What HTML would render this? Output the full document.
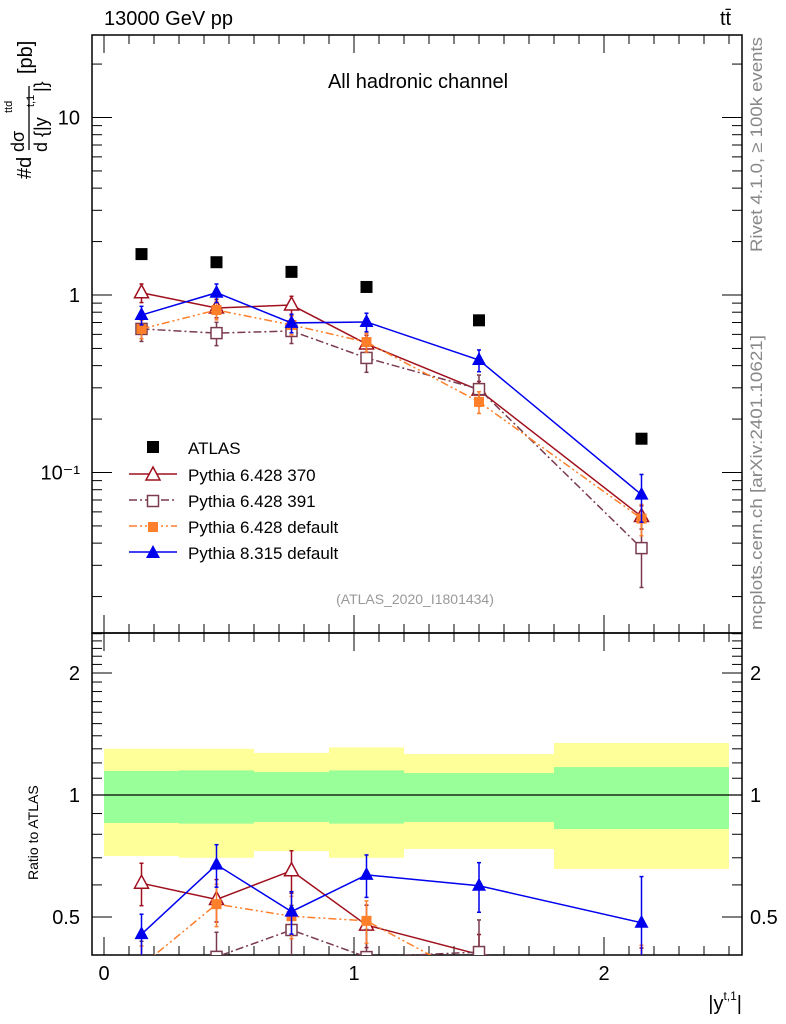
<!DOCTYPE html>
<html><head><meta charset="utf-8">
<style>
html,body{margin:0;padding:0;background:#fff;overflow:hidden;width:786px;height:1024px;}
svg{display:block;font-family:"Liberation Sans",sans-serif;}
</style></head>
<body>
<svg id="chart" width="786" height="1024" viewBox="0 0 786 1024" xmlns="http://www.w3.org/2000/svg">
<g id="bands"></g>
<g id="axes"></g>
<g id="series"></g>
<text x="104" y="25" font-size="20">13000 GeV pp</text>
<text x="720" y="25" font-size="20">tt̄</text>
<text x="418" y="88" font-size="20" text-anchor="middle">All hadronic channel</text>
<text x="415" y="604" font-size="14" fill="#999" text-anchor="middle">(ATLAS_2020_I1801434)</text>
<text transform="translate(762,252) rotate(-90)" font-size="17" fill="#888" textLength="215" lengthAdjust="spacingAndGlyphs">Rivet 4.1.0, ≥ 100k events</text>
<text transform="translate(762,630) rotate(-90)" font-size="17" fill="#888" textLength="295" lengthAdjust="spacingAndGlyphs">mcplots.cern.ch [arXiv:2401.10621]</text>
<g font-size="20">
<text transform="translate(31,179) rotate(-90)">#d</text>
<text transform="translate(24,152) rotate(-90)" font-size="18">dσ</text>
<text transform="translate(12,113) rotate(-90)" font-size="11">ttd</text>
<line x1="29" y1="150" x2="29" y2="86" stroke="#000" stroke-width="1.3"/>
<text transform="translate(47,152) rotate(-90)" font-size="18">d {|y</text>
<text transform="translate(34,107) rotate(-90)" font-size="11">t,1</text>
<text transform="translate(47,92) rotate(-90)" font-size="18">|}</text>
<text transform="translate(32,74) rotate(-90)">[pb]</text>
</g>
<text transform="translate(38,880) rotate(-90)" font-size="14">Ratio to ATLAS</text>
<text x="742" y="1010" font-size="20" text-anchor="end">|y<tspan font-size="12" dy="-10">t,1</tspan><tspan dy="10">|</tspan></text>
<g id="legend"></g>
</svg>
<script>
const binEdges=[0,0.3,0.6,0.9,1.2,1.8,2.5];
const xCenters=[0.15,0.45,0.75,1.05,1.5,2.15];
const atlas=[1.70,1.53,1.35,1.11,0.72,0.155];
const p370=[1.03,0.845,0.878,0.53,0.291,0.0565];
const p391=[0.644,0.61,0.627,0.442,0.295,0.0375];
const pdef=[0.644,0.823,0.678,0.543,0.25,0.055];
const p8=[0.771,1.03,0.696,0.705,0.43,0.075];
const e370=[0.12,0.12,0.12,0.12,0.12,0.15];
const e391=[0.15,0.15,0.15,0.17,0.2,0.4];
const edef=[0.12,0.12,0.12,0.12,0.14,0.2];
const e8=[0.12,0.12,0.12,0.12,0.14,0.3];
const yellowHi=[1.30,1.30,1.27,1.31,1.262,1.344];
const yellowLo=[0.707,0.70,0.727,0.70,0.736,0.657];
const greenHi=[1.146,1.15,1.14,1.15,1.133,1.172];
const greenLo=[0.853,0.85,0.858,0.85,0.858,0.824];
const mainTicks=[0.1,1,10];
const mainTickLabels=["10\u207B\u00B9","1","10"];
const ratioTicks=[0.5,1,2];
const ratioTickLabels=["0.5","1","2"];
const xTicks=[0,1,2];
const xTickLabels=["0","1","2"];

const NS="http://www.w3.org/2000/svg";
const L=92,R=742,MT=35,MB=633,RT=633,RB=955;
const xs=v=>104+250*v;
const ym=v=>295-177.5*Math.log10(v);
const yr=v=>795-122*Math.log2(v);
function el(tag,attrs,parent){const e=document.createElementNS(NS,tag);for(const k in attrs)e.setAttribute(k,attrs[k]);parent.appendChild(e);return e;}
const bands=document.getElementById('bands'),axes=document.getElementById('axes'),series=document.getElementById('series'),legend=document.getElementById('legend');

for(let i=0;i<binEdges.length-1;i++){
 let r=el('rect',{x:xs(binEdges[i]),y:yr(yellowHi[i]),width:xs(binEdges[i+1])-xs(binEdges[i]),height:yr(yellowLo[i])-yr(yellowHi[i]),fill:'#ffff99'},bands);
 
 
 let g=el('rect',{x:xs(binEdges[i]),y:yr(greenHi[i]),width:xs(binEdges[i+1])-xs(binEdges[i]),height:yr(greenLo[i])-yr(greenHi[i]),fill:'#99ff99'},bands);
 
 
}
el('line',{x1:L,x2:R,y1:yr(1),y2:yr(1),stroke:'#000','stroke-width':1.3},bands);

el('rect',{x:L,y:MT,width:R-L,height:MB-MT,fill:'none',stroke:'#000','stroke-width':1.5},axes);
el('rect',{x:L,y:RT,width:R-L,height:RB-RT,fill:'none',stroke:'#000','stroke-width':1.5},axes);
for(let k=0;k<=25;k++){const v=k/10,x=xs(v),maj=(k%10===0),len=maj?18:9;
 for(const [top,bot] of [[MT,MB],[RT,RB]]){
  el('line',{x1:x,x2:x,y1:top,y2:top+len,stroke:'#000'},axes);
  el('line',{x1:x,x2:x,y1:bot,y2:bot-len,stroke:'#000'},axes);
 }}
xTicks.forEach((v,i)=>{const t=el('text',{x:xs(v),y:980,'font-size':20,'text-anchor':'middle'},axes);t.textContent=xTickLabels[i];
 
 });
for(let d=-2;d<=1;d++)for(let m=1;m<=9;m++){const v=m*Math.pow(10,d);const y=ym(v);if(y<MT||y>MB)continue;const len=m===1?20:10;
 el('line',{x1:L,x2:L+len,y1:y,y2:y,stroke:'#000'},axes);el('line',{x1:R,x2:R-len,y1:y,y2:y,stroke:'#000'},axes);}
mainTicks.forEach((v,i)=>{const t=el('text',{x:80,y:ym(v)+7,'font-size':20,'text-anchor':'end'},axes);t.textContent=mainTickLabels[i];
 
 });
for(let k=4;k<=25;k++){const v=k/10;const y=yr(v);if(y<RT||y>RB)continue;const maj=(k===5||k===10||k===20);const len=maj?20:10;
 el('line',{x1:L,x2:L+len,y1:y,y2:y,stroke:'#000'},axes);el('line',{x1:R,x2:R-len,y1:y,y2:y,stroke:'#000'},axes);}
ratioTicks.forEach((v,i)=>{
 const t=el('text',{x:80,y:yr(v)+7,'font-size':20,'text-anchor':'end'},axes);t.textContent=ratioTickLabels[i];
 
 
 const t2=el('text',{x:750,y:yr(v)+7,'font-size':20},axes);t2.textContent=ratioTickLabels[i];
 
 });

const defs=el('defs',{},document.getElementById('chart'));
const c1=el('clipPath',{id:'cm'},defs);el('rect',{x:L,y:MT,width:R-L,height:MB-MT},c1);
const c2=el('clipPath',{id:'cr'},defs);el('rect',{x:L,y:RT,width:R-L,height:RB-RT},c2);

function marker(g,type,x,y,color){
 const s=6;
 if(type==='sq')el('rect',{x:x-s,y:y-s,width:2*s,height:2*s,fill:color},g);
 else if(type==='osq')el('rect',{x:x-5.5,y:y-5.5,width:11,height:11,fill:'#fff',stroke:color,'stroke-width':1.5},g);
 else if(type==='fsq')el('rect',{x:x-5,y:y-5,width:10,height:10,fill:color},g);
 else if(type==='tri')el('polygon',{points:`${x},${y-8} ${x-7},${y+5} ${x+7},${y+5}`,fill:color},g);
 else if(type==='otri')el('polygon',{points:`${x},${y-8} ${x-7},${y+5} ${x+7},${y+5}`,fill:'#fff',stroke:color,'stroke-width':1.5},g);
}
const mcs=[
 {name:'pythia-6428-370',vals:p370,err:e370,color:'#a0101e',dash:'',mk:'otri',label:'Pythia 6.428 370'},
 {name:'pythia-6428-391',vals:p391,err:e391,color:'#7a3b4f',dash:'8,3,2,3',mk:'osq',label:'Pythia 6.428 391'},
 {name:'pythia-6428-default',vals:pdef,err:edef,color:'#ff7f2a',dash:'8,3,2,3,2,3',mk:'fsq',label:'Pythia 6.428 default'},
 {name:'pythia-8315-default',vals:p8,err:e8,color:'#0000ee',dash:'',mk:'tri',label:'Pythia 8.315 default'}];

mcs.forEach(s=>{
 for(const panel of ['main','ratio']){
  const g=el('g',{'clip-path':panel==='main'?'url(#cm)':'url(#cr)'},series);
  
  
  const Y=panel==='main'?(i,v)=>ym(v):(i,v)=>yr(v/atlas[i]);
  const pts=s.vals.map((v,i)=>xs(xCenters[i])+','+Y(i,v)).join(' ');
  el('polyline',{points:pts,fill:'none',stroke:s.color,'stroke-width':1.5,'stroke-dasharray':s.dash},g);
  s.vals.forEach((v,i)=>{const x=xs(xCenters[i]);const y1=Y(i,v*(1+s.err[i])),y2=Y(i,v*(1-s.err[i]));
   el('line',{x1:x,x2:x,y1:y1,y2:y2,stroke:s.color,'stroke-width':1.5},g);
   el('line',{x1:x-2,x2:x+2,y1:y1,y2:y1,stroke:s.color,'stroke-width':1.5},g);
   el('line',{x1:x-2,x2:x+2,y1:y2,y2:y2,stroke:s.color,'stroke-width':1.5},g);
   marker(g,s.mk,x,Y(i,v),s.color);});
 }
});
const ga=el('g',{'clip-path':'url(#cm)'},series);


atlas.forEach((v,i)=>marker(ga,'sq',xs(xCenters[i]),ym(v),'#000'));

const ly=[447,474,500,526,552];
const lg0=el('g',{},legend);


marker(lg0,'sq',153,ly[0],'#000');
let lt=el('text',{x:188,y:ly[0]+7,'font-size':17},lg0);lt.textContent='ATLAS';
mcs.forEach((s,k)=>{const y=ly[k+1];const g=el('g',{},legend);
 
 
 el('line',{x1:129,x2:177,y1:y,y2:y,stroke:s.color,'stroke-width':1.5,'stroke-dasharray':s.dash},g);
 marker(g,s.mk,153,y+1,s.color);
 const t=el('text',{x:188,y:y+7,'font-size':17},g);t.textContent=s.label;});
</script>
</body></html>
